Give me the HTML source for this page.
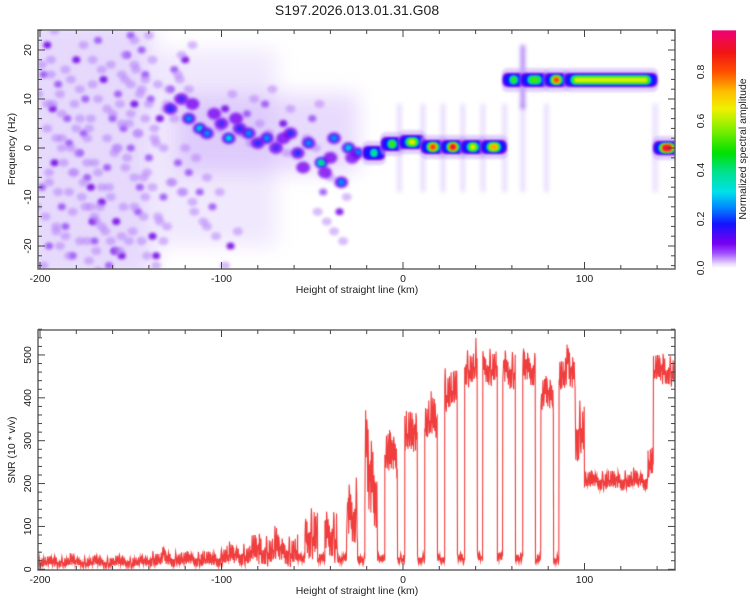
<!DOCTYPE html>
<html><head><meta charset="utf-8">
<style>
body{margin:0;background:#fff;width:750px;height:600px;overflow:hidden;font-family:"Liberation Sans",sans-serif}
#wrap{position:relative;width:750px;height:600px}
canvas,svg{position:absolute;left:0;top:0}
</style></head><body>
<div id="wrap">
<canvas id="spec" width="750" height="600"></canvas>
<canvas id="snr" width="750" height="600"></canvas>
<svg id="ax" width="750" height="600"></svg>
</div>
<script>
// ---------- data ----------
const ridgeStart=[-21,-11,-1,11,22,33,44,56,66,79,90,139];
const ridgeEnd  =[-11,-1,11,22,33,44,56,66,79,90,139,152];
const ridgeHz   =[-1,0.8,1.2,0.2,0.2,0.2,0.2,13.9,13.9,13.9,13.9,0];
const ridgeAmp  =[0.45,0.62,0.7,0.9,0.95,0.72,0.8,0.55,0.55,0.88,0.65,0.97];
const blobKm =[-128,-122,-118,-112,-108,-100,-96,-90,-85,-80,-75,-70,-62,-58,-52,-45,-43,-38,-34,-30,-25,-116,-104,-92,-66,-55,-40,-28];
const blobHz =[8,10,6,4,3,5,2,4,3,1,2,0,3,-1,1,-3,-5,2,-7,0,-1,9,7,6,2,-4,-2,-2];
const blobAmp=[0.25,0.2,0.3,0.35,0.3,0.2,0.35,0.25,0.3,0.25,0.3,0.2,0.25,0.25,0.3,0.45,0.15,0.3,0.3,0.35,0.3,0.15,0.15,0.15,0.15,0.15,0.15,0.15];
const dotKm=[-196,-190,-185,-192,-188,-195,-180,-175,-178,-172,-182,-168,-165,-160,-163,-158,-170,-152,-148,-150,-145,-155,-142,-140,-138,-186,-176,-166,-157,-146,-193,-162,-150,-134,-128,-132,-120,-118,-105,-95,-199,-184,-171,-154,-144,-136,-124,-112,-98,-86,-76,-66,-50,-44,-35,-198,-174,-159,-139,-126];
const dotHz=[21,13,6,-3,-12,-20,18,10,-1,-8,-22,22,14,6,-4,-15,-19,19,9,0,-8,-22,15,-2,-18,-16,3,-11,11,-13,8,-24,23,6,12,-10,18,-5,-12,-20,-8,1,-15,4,20,-22,-3,-9,8,7,9,5,6,-9,-13,15,-6,-21,10,16];
const snrStart=[-202,-140,-100,-84,-58,-54,-47,-43,-36,-31,-25,-21,-14,-10,-3,1,8,12,19,23,30,34,41,44,52,55,62,66,73,76,83,86,95,100,135,138];
const snrEnd  =[-140,-100,-84,-58,-54,-47,-43,-36,-31,-25,-21,-14,-10,-3,1,8,12,19,23,30,34,41,44,52,55,62,66,73,76,83,86,95,100,135,138,152];
const snrMean =[16,22,30,40,22,85,22,80,22,125,22,195,25,260,25,310,25,340,25,410,25,465,25,470,25,465,25,465,25,400,22,450,320,205,250,460];
const snrSpread=[16,22,30,45,14,75,14,75,14,95,14,130,14,70,14,65,14,65,14,60,14,55,14,55,14,55,14,55,14,55,14,55,90,28,50,45];
const jitter=[0.2,-0.6,0.9,-0.3,0.5,-0.9,0.1,0.7,-0.4,1.3,-0.7,0.3,-0.1,0.8,-0.5,0.4,-0.8,0.6,-0.2,0.95,-0.95,0.15,0.55,-0.65,0.35,-0.25,1.1,-0.45,0.05,-0.85,0.45,0.25,-0.35,0.75,-0.15,1.6,-0.55,0.65,-0.75,0.1,0.85,-0.05,-0.9,0.3,0.5,-0.6,1.2,-0.3,0.0,0.6,-0.8,0.4,-0.2,0.9,-0.4,0.2,-0.7];
const xTicks=[-200,-100,0,100];
const hzTicks=[20,10,0,-10,-20];
const snrTicks=[0,100,200,300,400,500];
const cbTicks=[0.0,0.2,0.4,0.6,0.8];

// ---------- scales ----------
const X=km=>403+km*1.815;
const YT=hz=>148-hz*4.9;
const YB=v=>569.3-v*0.4287;
const TL=38,TR=675,TT=30,TB=269,BT=330,BB=570;

const stops=[[0,[255,255,255]],[0.02,[226,208,255]],[0.06,[160,80,255]],[0.1,[120,0,240]],[0.18,[20,20,255]],[0.25,[0,140,255]],[0.31,[0,225,235]],[0.4,[0,225,130]],[0.47,[0,225,0]],[0.58,[150,240,0]],[0.65,[240,240,0]],[0.72,[255,190,0]],[0.8,[255,80,0]],[0.88,[240,20,20]],[0.97,[240,0,120]],[1,[240,0,130]]];
function cmap(v){for(let i=1;i<stops.length;i++){if(v<=stops[i][0]){const a=stops[i-1],b=stops[i],t=(v-a[0])/(b[0]-a[0]);return 'rgb('+a[1].map((c,k)=>Math.round(c+(b[1][k]-c)*t)).join(',')+')';}}return 'rgb(240,0,130)';}

// ---------- spectrogram ----------
const c=document.getElementById('spec').getContext('2d');
c.save();c.beginPath();c.rect(TL,TT,TR-TL,TB-TT);c.clip();
c.filter='blur(10px)';
c.fillStyle='rgba(205,180,250,0.5)';
c.fillRect(X(-210),TT-10,X(-138)-X(-210),TB-TT+20);
c.fillStyle='rgba(205,180,250,0.3)';
c.fillRect(X(-138),YT(20),X(-70)-X(-138),YT(-20)-YT(20));
c.fillStyle='rgba(190,150,250,0.35)';
c.fillRect(X(-125),YT(11),X(-25)-X(-125),YT(-5)-YT(11));
c.filter='blur(1.5px)';
const offs=[[0,0],[4,3],[-3,-4],[2,-6]];
offs.forEach((o,j)=>{
 for(let i=0;i<dotKm.length;i++){
  c.fillStyle=j===0?(i%3===0?'rgba(110,0,230,0.85)':'rgba(140,60,245,0.75)'):'rgba(175,120,250,0.5)';
  c.beginPath();c.ellipse(X(dotKm[i]+o[0]),YT(dotHz[i]+o[1]),j===0?4:5,j===0?3.5:4,0,0,7);c.fill();
 }
});
for(let i=0;i<blobKm.length;i++){
  const a=blobAmp[i],cx=X(blobKm[i]),cy=YT(blobHz[i]);
  c.fillStyle='rgba(120,0,240,0.8)';c.beginPath();c.ellipse(cx,cy,7,6,0,0,7);c.fill();
  [0.18,0.25,0.31,0.4].filter(l=>l<a).forEach(l=>{const f=1-l/a*0.8;c.fillStyle=cmap(l+0.02);c.beginPath();c.ellipse(cx,cy,5*f+1,4*f+1,0,0,7);c.fill();});
}
c.filter='blur(2px)';
c.fillStyle='rgba(180,140,250,0.35)';
[-2,11,22,33,44,56,66,79,139].forEach(k=>{c.fillRect(X(k)-2,YT(9),4,YT(-9)-YT(9));});
c.fillStyle='rgba(110,30,240,0.6)';c.fillRect(X(66)-2,YT(21),4,YT(8)-YT(21));
c.filter='blur(1px)';
function rr(x,y,w,h,r){c.beginPath();if(c.roundRect)c.roundRect(x,y,w,h,r);else c.rect(x,y,w,h);c.fill();}
for(let i=0;i<ridgeStart.length;i++){
  const x0=X(ridgeStart[i]),x1=X(ridgeEnd[i]),cy=YT(ridgeHz[i]),a=ridgeAmp[i];
  c.fillStyle='rgba(200,170,250,0.55)';rr(x0-3,cy-12,x1-x0+6,24,6);
  c.fillStyle=cmap(0.1);rr(x0-2,cy-7,x1-x0+4,14,5);
  c.fillStyle=cmap(0.18);rr(x0-1,cy-5.5,x1-x0+2,11,5);
}
for(let i=0;i<ridgeStart.length;i++){
  const x0=X(ridgeStart[i]),x1=X(ridgeEnd[i]),cy=YT(ridgeHz[i]),a=ridgeAmp[i];
  [0.25,0.31,0.4,0.5,0.62,0.72,0.82,0.9].filter(l=>l<a).forEach(l=>{const f=1-l/a;const hh=1.5+3.5*Math.sqrt(f);const inset=2+(1-f)*6;c.fillStyle=cmap(l+0.02);
    rr(x0+inset,cy-hh,x1-x0-2*inset,2*hh,hh);});
}
c.restore();

// ---------- SNR ----------
const s=document.getElementById('snr').getContext('2d');
s.save();s.beginPath();s.rect(TL,BT,TR-TL,BB-BT);s.clip();
s.strokeStyle='rgba(238,40,40,0.9)';s.lineWidth=1.1;s.beginPath();
let n=0;const J=jitter.length;
for(let i=0;i<snrStart.length;i++){
  for(let k=snrStart[i];k<snrEnd[i];k+=0.22){
    const v=Math.max(0,snrMean[i]+snrSpread[i]*(0.65*jitter[(n*5)%J]+0.45*jitter[(n*11+3)%J]*Math.abs(jitter[Math.floor(n/9)%J])));
    n===0?s.moveTo(X(k),YB(v)):s.lineTo(X(k),YB(v));n++;
  }
}
s.stroke();s.restore();

// ---------- axes (SVG) ----------
const svg=document.getElementById('ax'),NS='http://www.w3.org/2000/svg';
function el(t,a,txt){const e=document.createElementNS(NS,t);for(const k in a)e.setAttribute(k,a[k]);if(txt!==undefined)e.textContent=txt;svg.appendChild(e);return e;}
let t=el('text',{x:357,y:15,'text-anchor':'middle','font-size':14,fill:'#222'},'S197.2026.013.01.31.G08');

function frame(top,bot,name){
  const r=el('rect',{x:TL,y:top,width:TR-TL,height:bot-top,fill:'none',stroke:'#666','stroke-width':1.5});
  
  for(let k=-200;k<=150;k+=20){const x=X(k),L=k%100===0?7:4;
    el('line',{x1:x,x2:x,y1:bot,y2:bot-L,stroke:'#444'});el('line',{x1:x,x2:x,y1:top,y2:top+L,stroke:'#444'});}
  xTicks.forEach(k=>{const e=el('text',{x:X(k),y:bot+13,'text-anchor':'middle','font-size':10.5,fill:'#222'},String(k));
    });
  const xt=el('text',{x:357,y:bot+24,'text-anchor':'middle','font-size':10.5,fill:'#222'},'Height of straight line (km)');
  
}
frame(TT,TB,'spectrogram-frame');frame(BT,BB,'snr-frame');
for(let h=-24;h<=24;h+=2){const y=YT(h),L=h%10===0?7:4;el('line',{x1:TL,x2:TL+L,y1:y,y2:y,stroke:'#444'});el('line',{x1:TR,x2:TR-L,y1:y,y2:y,stroke:'#444'});}
hzTicks.forEach(h=>{const e=el('text',{x:0,y:0,transform:`translate(31,${YT(h)}) rotate(-90)`,'text-anchor':'middle','font-size':10.5,fill:'#222'},String(h));
  });
let yt=el('text',{x:0,y:0,transform:`translate(15,${149}) rotate(-90)`,'text-anchor':'middle','font-size':10.5,fill:'#222'},'Frequency (Hz)');

for(let v=0;v<=560;v+=20){const y=YB(v),L=v%100===0?7:4;el('line',{x1:TL,x2:TL+L,y1:y,y2:y,stroke:'#444'});el('line',{x1:TR,x2:TR-L,y1:y,y2:y,stroke:'#444'});}
snrTicks.forEach(v=>{const e=el('text',{x:0,y:0,transform:`translate(31,${YB(v)}) rotate(-90)`,'text-anchor':'middle','font-size':10.5,fill:'#222'},String(v));
  });
yt=el('text',{x:0,y:0,transform:`translate(15,${450}) rotate(-90)`,'text-anchor':'middle','font-size':10.5,fill:'#222'},'SNR (10 * v/v)');

const defs=el('defs',{});const g=document.createElementNS(NS,'linearGradient');
g.setAttribute('id','cbg');g.setAttribute('x1',0);g.setAttribute('y1',1);g.setAttribute('x2',0);g.setAttribute('y2',0);defs.appendChild(g);
const CB=v=>268-v*245;
for(let v=0;v<=0.97;v+=0.01){const st=document.createElementNS(NS,'stop');st.setAttribute('offset',(v/0.97));st.setAttribute('stop-color',cmap(v));g.appendChild(st);}
const cb=el('rect',{x:712,y:CB(0.97),width:24,height:CB(0)-CB(0.97),fill:'url(#cbg)'});

cbTicks.forEach(v=>{const e=el('text',{x:0,y:0,transform:`translate(704,${CB(v)}) rotate(-90)`,'text-anchor':'middle','font-size':10.5,fill:'#222'},v.toFixed(1));
  });
const cbt=el('text',{x:0,y:0,transform:`translate(746,${149}) rotate(-90)`,'text-anchor':'middle','font-size':10.5,fill:'#222'},'Normalized spectral amplitude');

</script>
</body></html>
